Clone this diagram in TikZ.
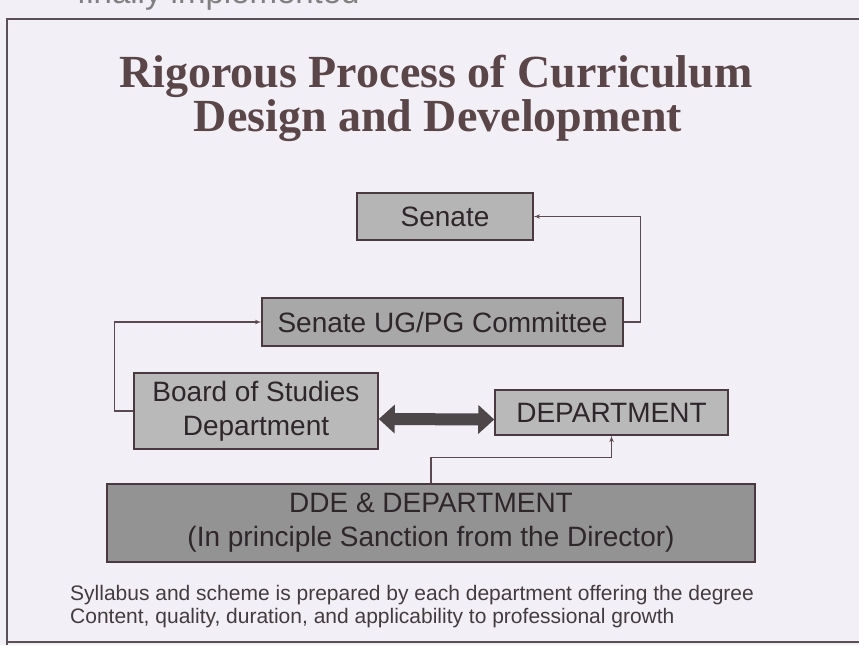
\documentclass[tikz,border=0pt]{standalone}
\usepackage{fontspec}
\setmainfont{Liberation Serif}
\setsansfont{Liberation Sans}
\usepackage{tikz}
\usetikzlibrary{shapes,arrows,arrows.meta}
\usetikzlibrary{positioning}
\definecolor{slidebg}{HTML}{F3EFF6}
\definecolor{frameline}{HTML}{5A5055}
\definecolor{boxline}{HTML}{4A3A40}
\definecolor{boxtext}{HTML}{2E262A}
\definecolor{titletext}{HTML}{5A4648}
\definecolor{connector}{HTML}{5A4A50}
\tikzstyle{block} = [rectangle, draw=boxline, line width=1.5pt, fill=gray!62, text=boxtext,
font=\sffamily\fontsize{28}{34}\selectfont, align=center, inner sep=0pt]
\tikzstyle{line} = [draw=connector, line width=1.1pt, -latex']
\tikzstyle{dblarrow} = [draw=boxtext!85, line width=12pt,
{Triangle[length=16pt,width=28pt]}-{Triangle[length=16pt,width=28pt]}]
\tikzstyle{foot} = [anchor=base west, inner sep=0pt, text=boxtext!90,
font=\sffamily\fontsize{21}{23}\selectfont]
\begin{document}
\begin{tikzpicture}[x=1pt, y=-1pt]
	\useasboundingbox (0,0) rectangle (859,645);
	\fill[slidebg] (0,0) rectangle (859,645);
	
	% slide frame
	\draw[frameline, line width=2pt] (859,19) -- (7,19) -- (7,645);
	\draw[frameline, line width=2pt] (7,642) -- (859,642);
	\node[anchor=base west, inner sep=0pt, text=gray, font=\sffamily\fontsize{33}{36}\selectfont] (prev) at (77,4) {finally implemented};
	
	% title
	\node[anchor=base, inner sep=0pt, text=titletext, font=\bfseries\fontsize{46}{54}\selectfont] (title1) at (436,87) {Rigorous Process of Curriculum};
	\node[anchor=base, inner sep=0pt, text=titletext, font=\bfseries\fontsize{46}{54}\selectfont] (title2) at (438,131) {Design and Development};
	
	% boxes
	\node [block, fill=gray!58, minimum width=176pt, minimum height=47pt] (senate) at (445,216.5) {Senate};
	\node [block, fill=gray!68, minimum width=361pt, minimum height=48pt] (committee) at (442.5,322) {Senate UG/PG Committee};
	\node [block, fill=gray!55, minimum width=244pt, minimum height=76pt] (board) at (256,411) {Board of Studies\\Department};
	\node [block, fill=gray!55, minimum width=233pt, minimum height=45pt] (dept) at (611.5,412.5) {DEPARTMENT};
	\node [block, fill=gray!85, minimum width=648pt, minimum height=78pt] (dde) at (431,523) {DDE \& DEPARTMENT\\(In principle Sanction from the Director)};
	
	% Draw edges
	\path [line] (board.west) -- ++(-19,0) |- (committee.west);
	\path [line] (committee.east) -- ++(17,0) |- (senate.east);
	\path [line] (dde.north) -- ++(0,-26) -| (dept.south);
	\draw [dblarrow] ([yshift=-8pt]board.east) -- ([yshift=-7pt]dept.west);
	
	% notes
	\node [foot] (note1) at (70,600) {Syllabus and scheme is prepared by each department offering the degree};
	\node [foot] (note2) at (70,623) {Content, quality, duration, and applicability to professional growth};
	
\end{tikzpicture}
\end{document}
